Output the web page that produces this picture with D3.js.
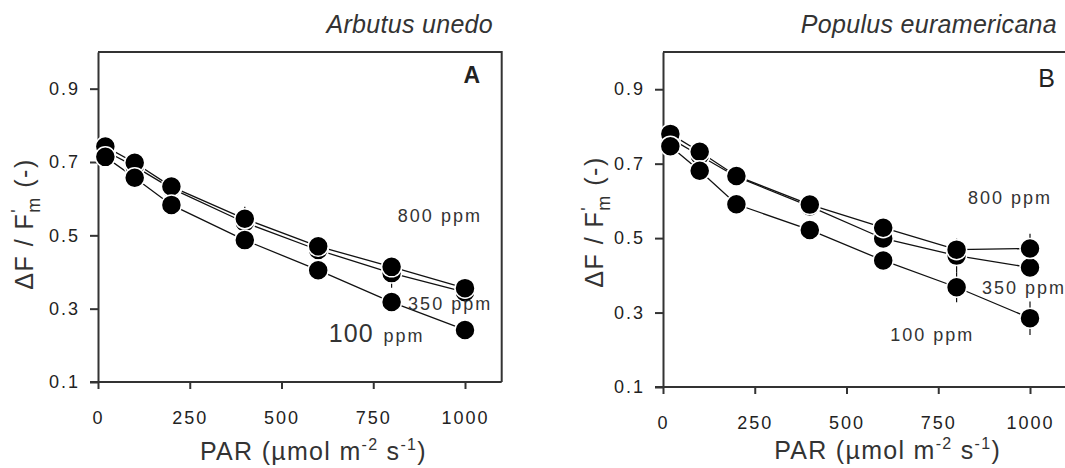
<!DOCTYPE html>
<html>
<head>
<meta charset="utf-8">
<script src="https://cdn.jsdelivr.net/npm/d3@7"></script>
<style>
  html, body { margin: 0; padding: 0; background: #fff; }
  svg { display: block; font-family: "Liberation Sans", Arial, sans-serif; }
</style>
</head>
<body>
<svg id="chart" width="1065" height="468"></svg>
<script>
// ---------- data ----------
const par = [20, 100, 200, 400, 600, 800, 1000];
const xTicks = [0, 250, 500, 750, 1000];
const yTicks = [0.1, 0.3, 0.5, 0.7, 0.9];
const seriesNames = ["350 ppm", "800 ppm", "100 ppm"];

// Panel A – Arbutus unedo
const a350 = [0.730, 0.688, 0.628, 0.535, 0.460, 0.397, 0.345];
const a800 = [0.742, 0.698, 0.633, 0.545, 0.470, 0.414, 0.356];
const a100 = [0.714, 0.657, 0.583, 0.487, 0.405, 0.318, 0.242];
const a350Err = [0.010, 0.010, 0.010, 0.015, 0.020, 0.040, 0.020];
const a800Err = [0.010, 0.010, 0.010, 0.033, 0.020, 0.020, 0.020];
const a100Err = [0.010, 0.010, 0.010, 0.015, 0.015, 0.020, 0.020];

// Panel B – Populus euramericana
const b350 = [0.768, 0.722, 0.665, 0.585, 0.499, 0.453, 0.421];
const b800 = [0.780, 0.732, 0.667, 0.590, 0.528, 0.469, 0.472];
const b100 = [0.747, 0.681, 0.591, 0.522, 0.440, 0.368, 0.285];
const b350Err = [0.010, 0.010, 0.010, 0.020, 0.020, 0.045, 0.020];
const b800Err = [0.010, 0.010, 0.010, 0.020, 0.020, 0.020, 0.040];
const b100Err = [0.010, 0.010, 0.010, 0.020, 0.020, 0.040, 0.045];

const speciesNames = ["Arbutus unedo", "Populus euramericana"];
const panelLetters = ["A", "B"];

// ---------- layout ----------
const pxPerUnit = 0.367;
const xDomain = [0, 1100];
const yDomain = [0.1, 1.0];
const ink = "#222";

const panels = [
  {
    left: 98, top: 52, bottom: 382, titleRight: 493, yTitleX: 33, yTitleY: 224, xTitlePar: 587, xTitleY: 460,
    series: [a350, a800, a100], errs: [a350Err, a800Err, a100Err],
    species: speciesNames[0], letter: panelLetters[0], letterBold: true,
    letterPos: [1041, 0.915],
    labels: [
      { name: "800 ppm", par: 817, v: 0.536 },
      { name: "350 ppm", par: 845, v: 0.296 },
      { name: "100 ppm", par: 629, v: 0.209, bigNumber: true }
    ]
  },
  {
    left: 663, top: 52, bottom: 387, titleRight: 1057, yTitleX: 603, yTitleY: 222, xTitlePar: 612, xTitleY: 459,
    series: [b350, b800, b100], errs: [b350Err, b800Err, b100Err],
    species: speciesNames[1], letter: panelLetters[1], letterBold: false,
    letterPos: [1068, 0.905],
    labels: [
      { name: "800 ppm", par: 831, v: 0.592 },
      { name: "350 ppm", par: 869, v: 0.349 },
      { name: "100 ppm", par: 619, v: 0.223 }
    ]
  }
];

const svg = d3.select("#chart");

panels.forEach(p => {
  const x = d3.scaleLinear().domain(xDomain).range([p.left, p.left + (xDomain[1] - xDomain[0]) * pxPerUnit]);
  const y = d3.scaleLinear().domain(yDomain).range([p.bottom, p.top]);
  const g = svg.append("g");

  // top & right frame
  g.append("path")
    .attr("d", `M${x.range()[0]},${y.range()[1]}H${x.range()[1]}V${y.range()[0]}`)
    .attr("fill", "none").attr("stroke", "#333").attr("stroke-width", 2);

  // x axis
  const xa = g.append("g").attr("transform", `translate(0,${p.bottom})`)
    .call(d3.axisBottom(x).tickValues(xTicks).tickFormat(d3.format("d")).tickSize(7).tickSizeOuter(0).tickPadding(22));
  // y axis
  const ya = g.append("g").attr("transform", `translate(${p.left},0)`)
    .call(d3.axisLeft(y).tickValues(yTicks).tickFormat(d3.format(".1f")).tickSize(8).tickSizeOuter(0).tickPadding(10));
  [xa, ya].forEach(a => {
    a.select(".domain").attr("stroke", "#333").attr("stroke-width", 2);
    a.selectAll(".tick line").attr("stroke", "#333").attr("stroke-width", 2);
    a.selectAll(".tick text").attr("fill", ink).attr("font-size", 18)
      .attr("letter-spacing", "2px").attr("font-family", "Liberation Sans, Arial, sans-serif");
  });
  // extend bottom domain slightly left like reference
  xa.select(".domain").attr("d", `M${p.left - 8},0H${x.range()[1]}`);

  // lines
  const line = d3.line().x((d, i) => x(par[i])).y(d => y(d));
  p.series.forEach(s => {
    g.append("path").datum(s).attr("d", line)
      .attr("fill", "none").attr("stroke", "#111").attr("stroke-width", 1.3);
  });
  // error bars
  p.series.forEach((s, k) => {
    g.selectAll(null).data(s).enter().append("line")
      .attr("x1", (d, i) => x(par[i])).attr("x2", (d, i) => x(par[i]))
      .attr("y1", (d, i) => y(d - p.errs[k][i])).attr("y2", (d, i) => y(d + p.errs[k][i]))
      .attr("stroke", "#111").attr("stroke-width", 1.2);
  });
  // markers
  p.series.forEach(s => {
    g.selectAll(null).data(s).enter().append("circle")
      .attr("cx", (d, i) => x(par[i])).attr("cy", d => y(d)).attr("r", 10)
      .attr("fill", "#000").attr("stroke", "#fff").attr("stroke-width", 1.5);
  });

  // species title
  svg.append("text").attr("x", p.titleRight).attr("y", 33)
    .attr("text-anchor", "end").attr("font-size", 25).attr("font-style", "italic")
    .attr("letter-spacing", "0.3px").attr("fill", "#333").text(p.species);

  // panel letter
  svg.append("text").attr("x", x(p.letterPos[0])).attr("y", y(p.letterPos[1]))
    .attr("text-anchor", "end").attr("font-size", p.letterBold ? 23 : 25)
    .attr("font-weight", p.letterBold ? "bold" : "normal").attr("fill", ink).text(p.letter);

  // series labels
  p.labels.forEach(l => {
    const t = svg.append("text").attr("x", x(l.par)).attr("y", y(l.v))
      .attr("fill", "#333").attr("font-size", 18).attr("letter-spacing", "2px");
    if (l.bigNumber) {
      const parts = l.name.split(" ");
      t.append("tspan").attr("font-size", 25).attr("letter-spacing", "1px").text(parts[0]);
      t.append("tspan").attr("dx", 10).text(parts[1]);
    } else {
      const parts = l.name.split(" ");
      t.append("tspan").text(parts[0]);
      t.append("tspan").attr("dx", 0).text(" " + parts[1]);
    }
  });

  // x axis title
  const xt = svg.append("text").attr("x", x(p.xTitlePar)).attr("y", p.xTitleY)
    .attr("text-anchor", "middle").attr("font-size", 25).attr("letter-spacing", "1.3px").attr("fill", "#333");
  xt.append("tspan").text("PAR (µmol m");
  xt.append("tspan").attr("dy", -10).attr("font-size", 16).text("-2");
  xt.append("tspan").attr("dy", 10).text(" s");
  xt.append("tspan").attr("dy", -10).attr("font-size", 16).text("-1");
  xt.append("tspan").attr("dy", 10).text(")");

  // y axis title
  const yt = svg.append("text")
    .attr("transform", `translate(${p.yTitleX},${p.yTitleY}) rotate(-90)`)
    .attr("text-anchor", "middle").attr("font-size", 25).attr("letter-spacing", "1.5px").attr("fill", "#333");
  yt.append("tspan").text("ΔF / F");
  yt.append("tspan").attr("dy", -9).attr("font-size", 18).text("'");
  yt.append("tspan").attr("dx", -5).attr("dy", 16).attr("font-size", 18).text("m");
  yt.append("tspan").attr("dy", -7).text(" (-)");
});
</script>
</body>
</html>
